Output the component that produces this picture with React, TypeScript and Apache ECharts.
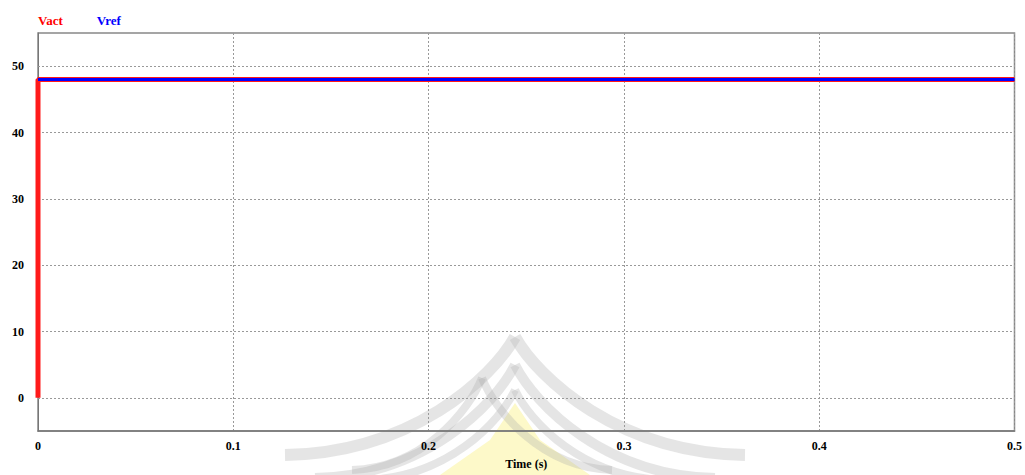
import React, { useEffect, useRef } from "react";
import * as echarts from "echarts";

const vactTime = [0, 0, 0, 0.5];
const vactValue = [0, 4, 48, 48];
const vrefTime = [0, 0.5];
const vrefValue = [48, 48];
const yGridValues = [0, 10, 20, 30, 40, 50];
const xTicks = [0, 0.1, 0.2, 0.3, 0.4, 0.5];

const FONT = "'Liberation Serif', 'Times New Roman', serif";

function arch(peakX: number, peakY: number, halfW: number, endY: number, w: number, color: string) {
  return [-1, 1].map((s) => ({
    type: "bezierCurve",
    z: -10,
    silent: true,
    shape: {
      x1: peakX + s * halfW, y1: endY,
      cpx1: peakX + s * halfW * 0.45, cpy1: endY - 2,
      cpx2: peakX + s * halfW * 0.1, cpy2: peakY + (endY - peakY) * 0.35,
      x2: peakX, y2: peakY,
    },
    style: { stroke: color, lineWidth: w, fill: null },
  }));
}

export default function App() {
  const ref = useRef<HTMLDivElement>(null);
  useEffect(() => {
    if (!ref.current) return;
    const chart = echarts.init(ref.current, undefined, { renderer: "svg" });
    const vact = vactTime.map((t, i) => [t, vactValue[i]]);
    const vref = vrefTime.map((t, i) => [t, vrefValue[i]]);
    const grey = "rgba(190,190,190,0.4)";
    chart.setOption({
      animation: false,
      backgroundColor: "#ffffff",
      legend: {
        left: 28,
        top: 8,
        icon: "none",
        itemWidth: 0,
        itemGap: 29,
        data: [
          { name: "Vact", textStyle: { color: "#ff0000" } },
          { name: "Vref", textStyle: { color: "#0000ff" } },
        ],
        textStyle: { fontFamily: FONT, fontWeight: "bold", fontSize: 13 },
      },
      graphic: [
        {
          type: "polygon",
          z: -11,
          silent: true,
          shape: { points: [[515, 403], [540, 440], [590, 475], [440, 475], [490, 440]] },
          style: { fill: "rgba(250,240,120,0.4)" },
        },
        ...arch(515, 337, 230, 455, 12, grey),
        ...arch(515, 365, 200, 478, 10, grey),
        ...arch(515, 390, 150, 480, 8, grey),
        ...arch(482, 378, 130, 470, 8, "rgba(170,170,170,0.3)"),
      ],
      grid: {
        left: 38,
        right: 3,
        top: 33,
        bottom: 42,
        show: true,
        borderColor: "#888888",
        borderWidth: 1.5,
        backgroundColor: "transparent",
      },
      xAxis: {
        type: "value",
        min: 0,
        max: 0.5,
        interval: 0.1,
        name: "Time (s)",
        nameLocation: "middle",
        nameGap: 27,
        nameTextStyle: { fontFamily: FONT, fontWeight: "bold", fontSize: 12, color: "#000" },
        axisLine: { show: true, onZero: false, lineStyle: { color: "#777", width: 1.5 } },
        axisTick: { show: false },
        axisLabel: {
          fontFamily: FONT,
          fontWeight: "bold",
          fontSize: 12,
          color: "#000",
          margin: 9,
          formatter: (v: number) => {
            const m = xTicks.find((t) => Math.abs(t - v) < 1e-9);
            return m === undefined ? "" : String(m);
          },
        },
        splitLine: { show: true, lineStyle: { color: "#999", type: [2, 2], width: 1 } },
      },
      yAxis: {
        type: "value",
        min: -5,
        max: 55,
        interval: 5,
        axisLine: { show: true, onZero: false, lineStyle: { color: "#777", width: 1 } },
        axisTick: { show: false },
        axisLabel: {
          fontFamily: FONT,
          fontWeight: "bold",
          fontSize: 12,
          color: "#000",
          margin: 14,
          formatter: (v: number) => (yGridValues.includes(Math.round(v)) && Math.abs(v - Math.round(v)) < 1e-9 ? String(Math.round(v)) : ""),
        },
        splitLine: { show: false },
      },
      series: [
        {
          name: "Vact",
          type: "line",
          data: vact,
          showSymbol: false,
          symbol: "none",
          lineStyle: { color: "#ff1a1a", width: 5 },
          itemStyle: { color: "#ff0000" },
          z: 3,
          markLine: {
            silent: true,
            symbol: "none",
            label: { show: false },
            lineStyle: { color: "#999", type: [2, 2], width: 1 },
            data: yGridValues.map((v) => ({ yAxis: v })),
            z: 1,
          },
        },
        {
          name: "Vref",
          type: "line",
          data: vref,
          showSymbol: false,
          symbol: "none",
          lineStyle: { color: "#0000ff", width: 3 },
          itemStyle: { color: "#0000ff" },
          z: 4,
        },
      ],
    });
    return () => chart.dispose();
  }, []);
  return <div ref={ref} style={{ position: "absolute", left: 0, top: 0, width: 1025, height: 475 }} />;
}
